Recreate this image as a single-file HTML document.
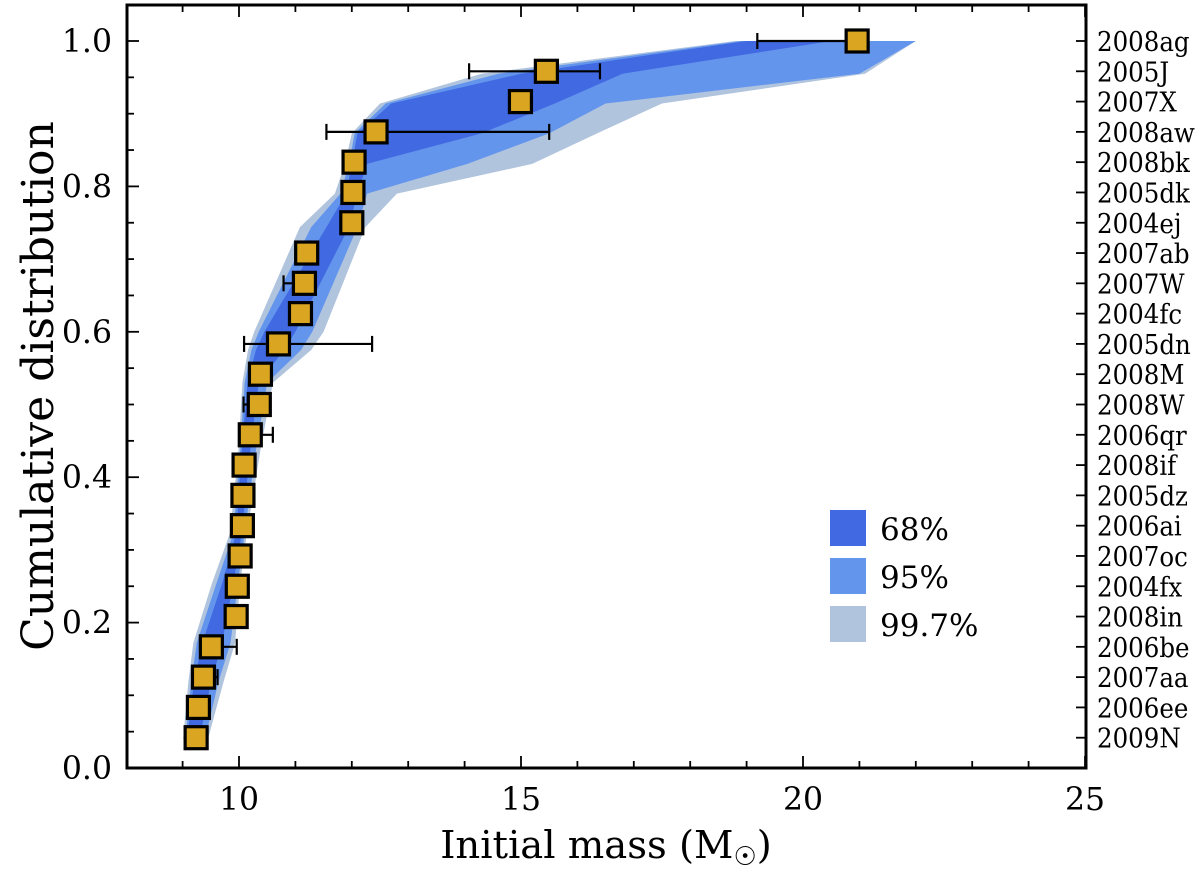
<!DOCTYPE html>
<html><head><meta charset="utf-8"><style>
body{margin:0;background:#fff;}
svg text{font-family:"DejaVu Serif","Liberation Serif",serif;fill:#000;}
</style></head><body>
<svg id="chart" width="1200" height="868" xmlns="http://www.w3.org/2000/svg"></svg>
<script>
const names=["2009N","2006ee","2007aa","2006be","2008in","2004fx","2007oc","2006ai","2005dz","2008if","2006qr","2008W","2008M","2005dn","2004fc","2007W","2007ab","2004ej","2005dk","2008bk","2008aw","2007X","2005J","2008ag"];
const masses=[9.24,9.28,9.37,9.51,9.95,9.97,10.02,10.06,10.07,10.09,10.2,10.36,10.38,10.7,11.09,11.16,11.2,12.0,12.02,12.04,12.43,14.99,15.45,20.96];
const errLo=[0,0,0.12,0.15,0,0,0,0,0.05,0,0.15,0.28,0,0.61,0.05,0.37,0.2,0,0,0.17,0.88,0.1,1.37,1.77];
const errHi=[0.03,0,0.25,0.45,0,0,0,0,0.03,0,0.4,0,0,1.66,0.05,0,0.2,0,0,0,3.07,0.1,0.95,0];
const bandY=[0.04,0.117,0.172,0.254,0.323,0.437,0.53,0.575,0.6,0.744,0.79,0.831,0.873,0.914,0.955,1.0];
const lo997=[9.01,9.1,9.19,9.52,9.84,9.99,10.06,10.16,10.27,11.08,11.7,11.88,12.0,12.5,14.3,18.8];
const hi997=[9.45,9.72,9.93,10.02,10.14,10.38,10.6,11.28,11.5,12.24,12.8,15.2,16.35,17.5,21.1,22.0];
const lo95=[9.05,9.15,9.25,9.6,9.9,10.02,10.1,10.22,10.35,11.28,11.8,11.95,12.05,12.6,14.6,18.9];
const hi95=[9.4,9.63,9.85,9.98,10.1,10.3,10.5,11.1,11.3,12.1,12.27,14.05,15.5,16.5,21.0,22.0];
const lo68=[9.08,9.2,9.35,9.7,9.95,10.05,10.15,10.3,10.45,11.55,11.9,12.0,12.1,12.7,15.0,19.0];
const hi68=[9.3,9.5,9.7,9.9,10.05,10.2,10.35,10.8,11.0,11.95,12.1,12.27,14.3,15.6,16.8,20.5];
const xTicks=[10,15,20,25];
const yTicks=[0,0.2,0.4,0.6,0.8,1.0];
const legendLabels=["68%","95%","99.7%"];
const legendColors=["#4169e1","#6495ed","#b0c4de"];

const L=127,R=1086,T=5,B=768;
const X=m=>239+(m-10)*56.4;
const Y=v=>768-v*727;
const svg=document.getElementById('chart');
const NS="http://www.w3.org/2000/svg";
function mk(tag,attrs,parent){const e=document.createElementNS(NS,tag);for(const k in attrs)e.setAttribute(k,attrs[k]);(parent||svg).appendChild(e);return e;}

function band(lo,hi,color,name){
  const pts=[];
  for(let i=0;i<bandY.length;i++)pts.push(X(lo[i])+","+Y(bandY[i]));
  for(let i=bandY.length-1;i>=0;i--)pts.push(X(hi[i])+","+Y(bandY[i]));
  const p=mk('polygon',{points:pts.join(' '),fill:color});
  
  
}
band(lo997,hi997,"#b0c4de","band-99-7");
band(lo95,hi95,"#6495ed","band-95");
band(lo68,hi68,"#4169e1","band-68");

for(let i=0;i<names.length;i++){
  const v=(i+1)/names.length, y=Y(v), x=X(masses[i]);
  const g=mk('g',{});
  
  
  const x1=X(masses[i]-errLo[i]), x2=X(masses[i]+errHi[i]);
  if(errLo[i]>0||errHi[i]>0){
    mk('line',{x1:x1,x2:x2,y1:y,y2:y,stroke:'#000','stroke-width':2.2},g);
    mk('line',{x1:x1,x2:x1,y1:y-8,y2:y+8,stroke:'#000','stroke-width':2.2},g);
    mk('line',{x1:x2,x2:x2,y1:y-8,y2:y+8,stroke:'#000','stroke-width':2.2},g);
  }
  mk('rect',{x:x-11,y:y-11,width:22,height:22,fill:'#daa520',stroke:'#000','stroke-width':3.2},g);
}

const fr=mk('rect',{x:L,y:T,width:R-L,height:B-T,fill:'none',stroke:'#000','stroke-width':3});


for(let m=9;m<=25;m++){
  const len=(m%5===0)?12:7;const x=X(m);
  mk('line',{x1:x,x2:x,y1:B,y2:B-len,stroke:'#000','stroke-width':1.8});
  mk('line',{x1:x,x2:x,y1:T,y2:T+len,stroke:'#000','stroke-width':1.8});
}
xTicks.forEach(t=>{const e=mk('text',{x:X(t),y:810,'font-size':31.5,'text-anchor':'middle'});e.textContent=t;

});
for(let k=0;k<=20;k++){const v=k/20,y=Y(v),len=(k%4===0)?12:7;
  mk('line',{x1:L,x2:L+len,y1:y,y2:y,stroke:'#000','stroke-width':1.8});}
yTicks.forEach(t=>{const e=mk('text',{x:112,y:Y(t)+11,'font-size':31.5,'text-anchor':'end'});e.textContent=t.toFixed(1);

});
names.forEach((n,i)=>{const y=Y((i+1)/names.length);
  mk('line',{x1:R,x2:R-10,y1:y,y2:y,stroke:'#000','stroke-width':1.8});
  const e=mk('text',{x:0,y:0,'font-size':24.5,transform:'translate(1097,'+(y+10)+') scale(1,1.12)'});e.textContent=n;
  
  });
const xt=mk('text',{x:606,y:858,'font-size':38.5,'text-anchor':'middle'});
xt.innerHTML='Initial mass (M<tspan font-size="26" dy="7">☉</tspan><tspan dy="-7">)</tspan>';


const yt=mk('text',{x:0,y:0,'font-size':44,'text-anchor':'middle',transform:'translate(53,386) rotate(-90)'});
yt.textContent='Cumulative distribution';


legendLabels.forEach((lab,i)=>{const y=510+i*48;
  const g=mk('g',{});
  
  
  mk('rect',{x:830,y:y,width:36,height:36,fill:legendColors[i]},g);
  const t=mk('text',{x:880,y:y+30,'font-size':31},g);t.textContent=lab;});
</script>
</body></html>
